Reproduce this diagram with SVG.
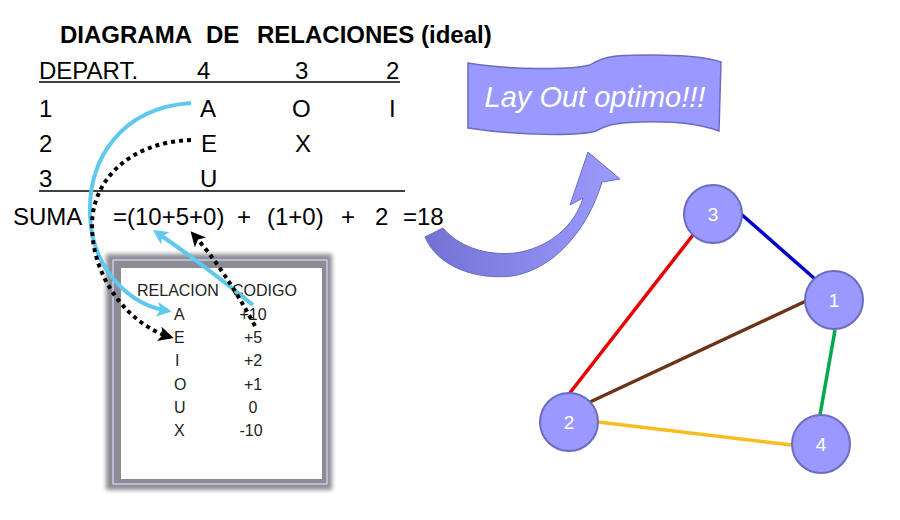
<svg xmlns="http://www.w3.org/2000/svg" width="900" height="520" viewBox="0 0 900 520">
<style>
.t{font-family:"Liberation Sans",Arial,sans-serif;fill:#000;font-size:24px}
.ttl{font-family:"Liberation Sans",Arial,sans-serif;font-weight:bold;font-size:24px;fill:#000}
.lg{font-family:"Liberation Sans",Arial,sans-serif;font-size:16px;fill:#222}
.lv{font-family:"Liberation Sans",Arial,sans-serif;font-size:16px;fill:#222;text-anchor:middle}
.node circle{fill:#9999ff;stroke:#6b6bc4;stroke-width:2}
.node text{font-family:"Liberation Sans",Arial,sans-serif;font-size:19px;fill:#fff;text-anchor:middle}
.edge{stroke-width:3.5;fill:none}
.blu{stroke:#5fc8ef;stroke-width:4;fill:none}
.dot{stroke:#000;stroke-width:4;fill:none;stroke-dasharray:4 4}
</style>
<defs>
<filter id="blur" x="-10%" y="-10%" width="120%" height="120%"><feGaussianBlur stdDeviation="2"/></filter>
<marker id="ab" viewBox="0 0 12 12" refX="9" refY="6" markerWidth="15" markerHeight="15" orient="auto" markerUnits="userSpaceOnUse"><path d="M0,0 L12,6 L0,12 L3,6 z" fill="#5fc8ef"/></marker>
<marker id="ak" viewBox="0 0 12 12" refX="9" refY="6" markerWidth="15" markerHeight="15" orient="auto" markerUnits="userSpaceOnUse"><path d="M0,0 L12,6 L0,12 L3,6 z" fill="#000"/></marker>
<linearGradient id="ag" x1="0" y1="0" x2="1" y2="0"><stop offset="0" stop-color="#7272d2"/><stop offset="1" stop-color="#9c9cff"/></linearGradient>
</defs>

<g id="title"><text class="ttl" y="43"><tspan x="60">DIAGRAMA</tspan><tspan x="206">DE</tspan><tspan x="257">RELACIONES</tspan><tspan x="421">(ideal)</tspan></text></g>

<g id="table">
<text class="t" x="39" y="79">DEPART.</text>
<text class="t" x="197" y="79">4</text>
<text class="t" x="295" y="79">3</text>
<text class="t" x="386" y="79">2</text>
<line x1="39" y1="82" x2="400" y2="82" stroke="#000" stroke-width="1.5"/>
<text class="t" x="39" y="117">1</text>
<text class="t" x="200" y="117">A</text>
<text class="t" x="292" y="117">O</text>
<text class="t" x="389" y="117">I</text>
<text class="t" x="39" y="152">2</text>
<text class="t" x="201" y="152">E</text>
<text class="t" x="295" y="152">X</text>
<text class="t" x="39" y="187">3</text>
<text class="t" x="200" y="187">U</text>
<line x1="39" y1="191" x2="405" y2="191" stroke="#000" stroke-width="1.5"/>
<text class="t" x="13" y="225">SUMA</text>
<text class="t" x="113" y="225">=(10+5+0)</text>
<text class="t" x="237" y="225">+</text>
<text class="t" x="267" y="225">(1+0)</text>
<text class="t" x="341" y="225">+</text>
<text class="t" x="375" y="225">2</text>
<text class="t" x="403" y="225">=18</text>
</g>

<g id="legend">
<rect x="106" y="254" width="226" height="236" fill="#8c8c94" filter="url(#blur)"/>
<rect x="121" y="268" width="201" height="211" fill="#fff"/>
<rect x="113" y="260" width="214" height="224" fill="none" stroke="#c8c8ee" stroke-width="1.5"/>
<text class="lg" x="137" y="296">RELACION</text>
<text class="lg" x="232" y="296">CODIGO</text>
<text class="lg" x="174" y="320">A</text>
<text class="lg" x="174" y="343">E</text>
<text class="lg" x="175" y="366">I</text>
<text class="lg" x="174" y="390">O</text>
<text class="lg" x="174" y="413">U</text>
<text class="lg" x="174" y="436">X</text>
<text class="lv" x="253" y="320">+10</text>
<text class="lv" x="253" y="343">+5</text>
<text class="lv" x="253" y="366">+2</text>
<text class="lv" x="253" y="390">+1</text>
<text class="lv" x="253" y="413">0</text>
<text class="lv" x="251" y="436">-10</text>
</g>

<g id="banner">
<path d="M468,63 C510,70 570,70 590,65 C605,55 620,55 650,55 C690,55 710,58 721,62 L719,131 C700,124 670,121 640,122 C610,123 605,126 596,131 C580,136 520,136 468,128 Z" fill="#9999ff" stroke="#6b6bc4" stroke-width="1.5"/>
<text x="595" y="107" font-family="'Liberation Sans',Arial,sans-serif" font-size="29" font-style="italic" fill="#fff" text-anchor="middle">Lay Out optimo!!!</text>
</g>

<g id="bigarrow">
<path d="M425,237 C438,268 478,280 512,276 C552,270 587,232 602,182 L620,179 L588,152 L570,205 L583,198 C575,225 550,248 515,253 C485,256 458,246 443,228 Z" fill="url(#ag)" stroke="#6b6bc4" stroke-width="1"/>
</g>

<g id="connectors">
<path class="blu" d="M191,103 C120,108 88,160 90,215 C92,270 130,305 168,311" marker-end="url(#ab)"/>
<path class="dot" d="M191,140 C130,142 92,180 92,225 C92,280 130,325 170,337" marker-end="url(#ak)"/>
<path class="blu" d="M253,305 Q200,262 156,232" marker-end="url(#ab)"/>
<path class="dot" d="M255,326 Q225,270 193,234" marker-end="url(#ak)"/>
<line class="edge" x1="741" y1="214" x2="815" y2="279" stroke="#0000cc"/>
<line class="edge" x1="693" y1="235" x2="569" y2="394" stroke="#e60000"/>
<line class="edge" x1="806" y1="301" x2="590" y2="402" stroke="#6b3419"/>
<line class="edge" x1="835" y1="330" x2="820" y2="415" stroke="#00a84f"/>
<line class="edge" x1="598" y1="422" x2="792" y2="445" stroke="#f5bd1f"/>
</g>

<g id="n3" class="node"><circle cx="713" cy="214" r="29"/><text x="713" y="221">3</text></g>
<g id="n1" class="node"><circle cx="834" cy="300" r="29"/><text x="834" y="307">1</text></g>
<g id="n2" class="node"><circle cx="569" cy="422" r="29"/><text x="569" y="429">2</text></g>
<g id="n4" class="node"><circle cx="821" cy="444" r="29"/><text x="821" y="451">4</text></g>
</svg>
